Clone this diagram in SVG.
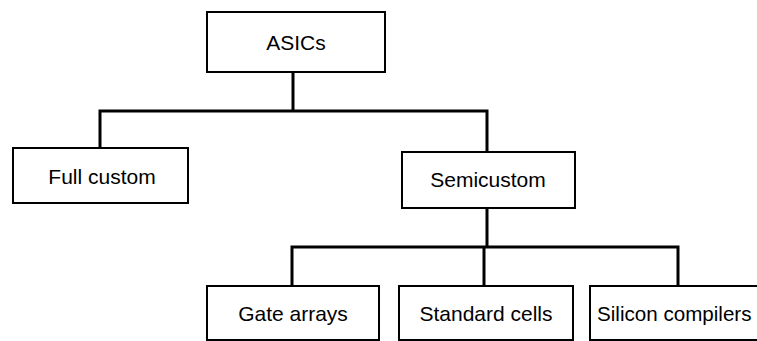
<svg xmlns="http://www.w3.org/2000/svg" width="757" height="341" viewBox="0 0 757 341">
<style>
.box{fill:#fff;stroke:#000;stroke-width:2}
.lbl{font-family:"Liberation Sans",Arial,sans-serif;font-size:21px;fill:#000;text-anchor:middle}
.conn{fill:none;stroke:#000;stroke-width:3;stroke-linejoin:miter}
</style>
<rect width="757" height="341" fill="#fff"/>
<g id="connectors">
<path class="conn" d="M293,72 V111"/>
<path class="conn" d="M100,148 V111 H487 V152"/>
<path class="conn" d="M487,208 V247"/>
<path class="conn" d="M292,286 V247 H678 V286"/>
<path class="conn" d="M484,247 V286"/>
</g>
<g id="asics"><rect class="box" x="207" y="12" width="178" height="60"/><text class="lbl" x="296" y="50">ASICs</text></g>
<g id="full-custom"><rect class="box" x="13" y="148" width="175" height="55"/><text class="lbl" x="102" y="184">Full custom</text></g>
<g id="semicustom"><rect class="box" x="402" y="152" width="173" height="56"/><text class="lbl" x="488" y="187">Semicustom</text></g>
<g id="gate-arrays"><rect class="box" x="207" y="286" width="172" height="54"/><text class="lbl" x="293" y="321">Gate arrays</text></g>
<g id="standard-cells"><rect class="box" x="399" y="286" width="174" height="54"/><text class="lbl" x="486" y="321">Standard cells</text></g>
<g id="silicon-compilers"><rect class="box" x="590" y="286" width="180" height="54"/><text class="lbl" x="597" y="321" style="text-anchor:start;font-size:20.6px">Silicon compilers</text></g>
</svg>
